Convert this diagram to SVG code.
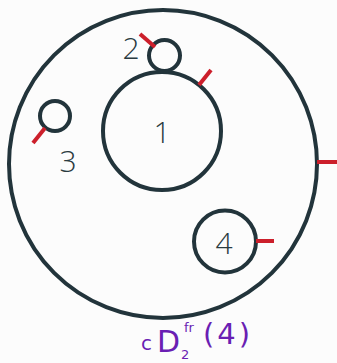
<svg xmlns="http://www.w3.org/2000/svg" width="337" height="363" viewBox="0 0 337 363">
<style>
.c{fill:none;stroke:#22343b;stroke-width:4}
.t{stroke:#cc1f2b;stroke-width:4;stroke-linecap:butt}
.n{font-family:"Open Sans",sans-serif;font-weight:300;font-size:30px;fill:#2a3a40;text-anchor:middle;dominant-baseline:central}
.h{font-family:"DejaVu Sans",sans-serif;fill:#6a1fb3}
</style>
<rect width="337" height="363" fill="#fcfcfc"/>
<g id="outer"><circle class="c" cx="163" cy="164" r="154"/></g>
<g id="node1"><circle class="c" cx="162" cy="131" r="59"/><text class="n" x="162" y="131">1</text></g>
<g id="node2"><circle class="c" cx="164.5" cy="55.5" r="15.5"/><text class="n" x="131" y="47">2</text></g>
<g id="node3"><circle class="c" cx="55" cy="116" r="15"/><text class="n" x="68" y="160">3</text></g>
<g id="node4"><circle class="c" cx="225" cy="241.5" r="31"/><text class="n" x="224" y="242">4</text></g>
<g id="connectors">
<line class="t" x1="317" y1="162" x2="337" y2="162"/>
<line class="t" x1="140" y1="34" x2="155" y2="47"/>
<line class="t" x1="211" y1="70" x2="199" y2="85"/>
<line class="t" x1="45" y1="128" x2="33" y2="143"/>
<line class="t" x1="256" y1="241" x2="274" y2="241"/>
</g>
<g id="label">
<text class="h" x="141" y="350" font-size="20">c</text>
<text class="h" x="157" y="352" font-size="30">D</text>
<text class="h" x="181" y="359" font-size="13">2</text>
<text class="h" x="184" y="332" font-size="13">fr</text>
<text class="h" x="203" y="344" font-size="29" letter-spacing="3">(4)</text>
</g>
</svg>
